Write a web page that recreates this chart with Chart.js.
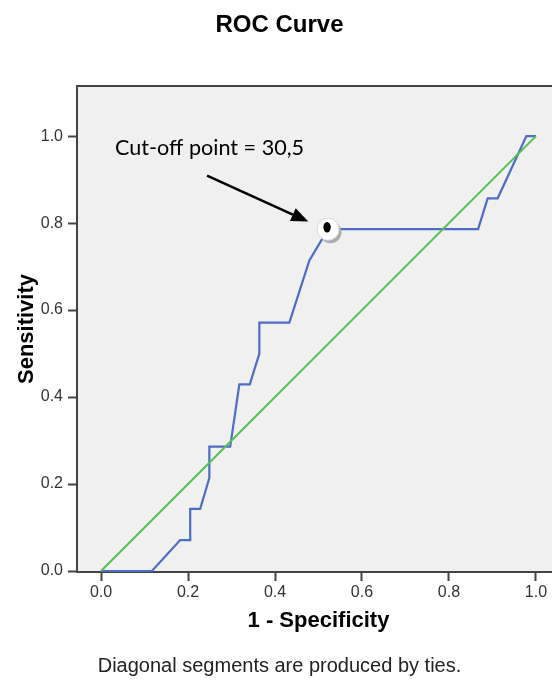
<!DOCTYPE html>
<html>
<head>
<meta charset="utf-8">
<script src="https://cdn.jsdelivr.net/npm/chart.js@4.4.1/dist/chart.umd.min.js"></script>
<style>
  html, body { margin: 0; padding: 0; background: #ffffff; overflow: hidden; }
  #wrap { width: 566px; height: 682px; }
</style>
</head>
<body>
<div id="wrap"><canvas id="c" width="566" height="682"></canvas></div>
<script>
// ---- Data ----
const rocX = [0, 0.117, 0.182, 0.205, 0.205, 0.228, 0.249, 0.249, 0.297, 0.318, 0.342, 0.364, 0.364, 0.433, 0.479, 0.522, 0.867, 0.889, 0.912, 0.978, 1.0];
const rocY = [0, 0, 0.071, 0.071, 0.143, 0.143, 0.214, 0.286, 0.286, 0.429, 0.429, 0.5, 0.571, 0.571, 0.714, 0.786, 0.786, 0.857, 0.857, 1.0, 1.0];
const refX = [0, 1];
const refY = [0, 1];
const xTickValues = [0, 0.2, 0.4, 0.6, 0.8, 1.0];
const yTickValues = [0, 0.2, 0.4, 0.6, 0.8, 1.0];
const cutoffPoint = { x: 0.522, y: 0.786 };
const cutoffLabel = 'Cut-off point = 30,5';
const chartTitle = 'ROC Curve';
const xTitle = '1 - Specificity';
const yTitle = 'Sensitivity';
const footnote = 'Diagonal segments are produced by ties.';

const FONT = "'Liberation Sans', Arial, Helvetica, sans-serif";

const toPts = (xs, ys) => xs.map((x, i) => ({ x: x, y: ys[i] }));

const framePlugin = {
  id: 'frame',
  beforeDatasetsDraw(chart) {
    const { ctx, chartArea: a } = chart;
    ctx.save();
    ctx.fillStyle = '#f0f0f0';
    ctx.fillRect(a.left, a.top, a.right - a.left, a.bottom - a.top);
    ctx.strokeStyle = '#444444';
    ctx.lineWidth = 2;
    ctx.strokeRect(a.left - 1, a.top - 1, a.right - a.left + 2, a.bottom - a.top + 2);
    ctx.restore();
  }
};

const annotationPlugin = {
  id: 'cutoffAnnotation',
  afterDatasetsDraw(chart) {
    const { ctx } = chart;
    const xs = chart.scales.x, ys = chart.scales.y;
    const px = xs.getPixelForValue(cutoffPoint.x);
    const py = ys.getPixelForValue(cutoffPoint.y);
    ctx.save();
    // marker: shadow, white disc, black ellipse
    ctx.fillStyle = 'rgba(165,165,165,0.9)';
    ctx.beginPath(); ctx.arc(px + 2.5, py + 3, 11, 0, Math.PI * 2); ctx.fill();
    ctx.fillStyle = '#ffffff';
    ctx.beginPath(); ctx.arc(px, py, 11, 0, Math.PI * 2); ctx.fill();
    ctx.strokeStyle = 'rgba(220,220,220,1)';
    ctx.lineWidth = 1;
    ctx.stroke();
    ctx.fillStyle = '#000000';
    ctx.beginPath(); ctx.ellipse(px - 1, py - 2, 3.7, 5.3, 0, 0, Math.PI * 2); ctx.fill();

    // arrow
    const sx = xs.getPixelForValue(0.2437), sy = ys.getPixelForValue(0.9091);
    const tx = xs.getPixelForValue(0.4766), ty = ys.getPixelForValue(0.8035);
    const ang = Math.atan2(ty - sy, tx - sx);
    const headLen = 17, headHalf = 7;
    const bx = tx - headLen * Math.cos(ang), by = ty - headLen * Math.sin(ang);
    ctx.strokeStyle = '#000000';
    ctx.lineWidth = 2.5;
    ctx.beginPath(); ctx.moveTo(sx, sy); ctx.lineTo(bx, by); ctx.stroke();
    ctx.fillStyle = '#000000';
    ctx.beginPath();
    ctx.moveTo(tx, ty);
    ctx.lineTo(bx + headHalf * Math.sin(ang), by - headHalf * Math.cos(ang));
    ctx.lineTo(bx - headHalf * Math.sin(ang), by + headHalf * Math.cos(ang));
    ctx.closePath(); ctx.fill();

    // label
    ctx.font = "21.6px Lato, 'Open Sans', sans-serif";
    ctx.fillStyle = '#000000';
    ctx.textAlign = 'left';
    ctx.textBaseline = 'alphabetic';
    ctx.fillText(cutoffLabel, xs.getPixelForValue(0.032), ys.getPixelForValue(0.9575));
    ctx.restore();
  }
};

new Chart(document.getElementById('c'), {
  type: 'scatter',
  data: {
    datasets: [
      {
        label: 'Reference',
        data: toPts(refX, refY),
        showLine: true,
        borderColor: '#52c152',
        borderWidth: 2,
        pointRadius: 0,
        tension: 0,
        clip: false
      },
      {
        label: 'ROC',
        data: toPts(rocX, rocY),
        showLine: true,
        borderColor: '#4d6cc6',
        borderWidth: 2.2,
        pointRadius: 0,
        tension: 0,
        clip: false
      }
    ]
  },
  options: {
    responsive: false,
    animation: false,
    devicePixelRatio: 1,
    layout: { padding: { left: 0, right: 7, top: 0, bottom: 0 } },
    plugins: {
      legend: { display: false },
      tooltip: { enabled: false },
      title: {
        display: true,
        text: chartTitle,
        color: '#000000',
        font: { family: FONT, size: 24, weight: 'bold' },
        padding: { top: 11, bottom: 47.2 }
      },
      subtitle: {
        display: true,
        position: 'bottom',
        text: footnote,
        color: '#222222',
        font: { family: FONT, size: 20, weight: 'normal' },
        padding: { top: 20, bottom: 4 }
      }
    },
    scales: {
      x: {
        type: 'linear',
        min: -0.053,
        max: 1.053,
        afterBuildTicks(scale) { scale.ticks = xTickValues.map(v => ({ value: v })); },
        afterFit(scale) { scale.height = 63; },
        border: { display: false },
        grid: { display: true, drawOnChartArea: false, drawTicks: true, tickLength: 10, tickWidth: 2, tickColor: '#444444' },
        ticks: {
          padding: 2,
          color: '#333333',
          font: { family: FONT, size: 16 },
          maxRotation: 0,
          callback: v => Number(v).toFixed(1)
        },
        title: {
          display: true,
          text: xTitle,
          color: '#000000',
          font: { family: FONT, size: 22, weight: 'bold' },
          padding: { top: 0, bottom: 0 }
        }
      },
      y: {
        type: 'linear',
        min: 0,
        max: 1.113,
        afterBuildTicks(scale) { scale.ticks = yTickValues.map(v => ({ value: v })); },
        afterFit(scale) { scale.width = 78; },
        border: { display: false },
        grid: { display: true, drawOnChartArea: false, drawTicks: true, tickLength: 10, tickWidth: 2, tickColor: '#444444' },
        ticks: {
          padding: 5,
          color: '#333333',
          font: { family: FONT, size: 16 },
          callback: v => Number(v).toFixed(1)
        },
        title: {
          display: true,
          text: yTitle,
          color: '#000000',
          font: { family: FONT, size: 22, weight: 'bold' },
          padding: { top: 13.3, bottom: 0 }
        }
      }
    }
  },
  plugins: [framePlugin, annotationPlugin]
});
</script>
</body>
</html>
